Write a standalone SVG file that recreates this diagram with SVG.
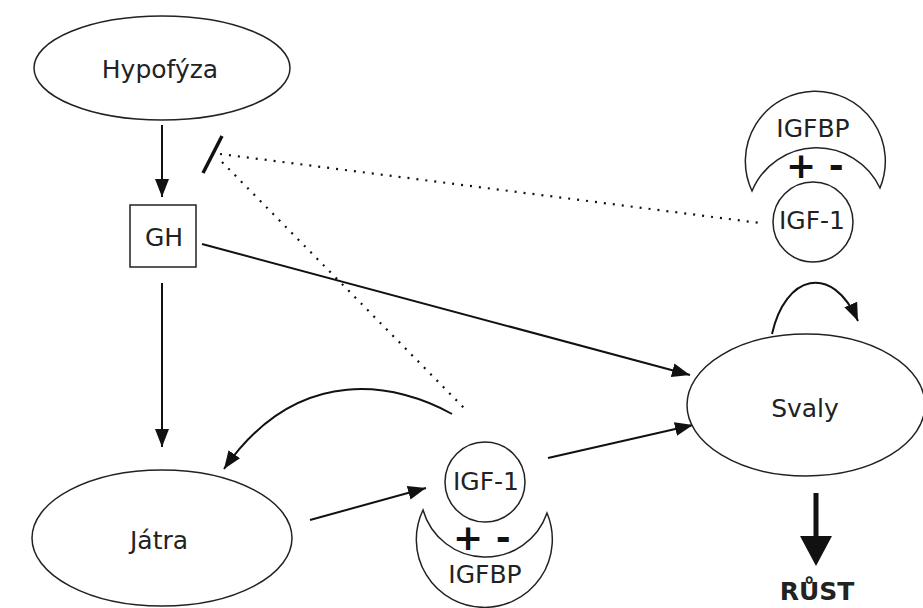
<svg xmlns="http://www.w3.org/2000/svg" width="923" height="608" viewBox="0 0 923 608">
<style>
.n{fill:#fff;stroke:#222;stroke-width:1.5}
.t{font-family:"DejaVu Sans",sans-serif;font-size:25px;fill:#222;text-anchor:middle}
.pm{font-family:"DejaVu Sans",sans-serif;font-size:36px;font-weight:bold;fill:#111}
.c{fill:none;stroke:#111;stroke-width:2}
.d{fill:none;stroke:#111;stroke-width:2.2;stroke-dasharray:2 7}
</style>
<defs>
<marker id="a" markerUnits="userSpaceOnUse" markerWidth="20" markerHeight="16" refX="18" refY="8" orient="auto"><path d="M0,1 L18,8 L0,15 Z" fill="#111"/></marker>
<marker id="b" markerUnits="userSpaceOnUse" markerWidth="34" markerHeight="34" refX="30" refY="17" orient="auto"><path d="M0,1 L30,17 L0,33 Z" fill="#111"/></marker>
</defs>
<g id="connectors">
<line class="c" x1="162" y1="125" x2="162" y2="197" marker-end="url(#a)"/>
<line class="c" x1="162" y1="283" x2="162" y2="447" marker-end="url(#a)"/>
<line class="c" x1="202" y1="244" x2="690" y2="375" marker-end="url(#a)"/>
<line x1="203" y1="173" x2="222" y2="136" stroke="#111" stroke-width="3.5"/>
<line class="d" x1="220" y1="154" x2="760" y2="223"/>
<line class="d" x1="222" y1="162" x2="464" y2="408"/>
<path class="c" d="M452,414 C400,385 300,360 224,469" marker-end="url(#a)"/>
<line class="c" x1="310" y1="520" x2="426" y2="488" marker-end="url(#a)"/>
<line class="c" x1="548" y1="458" x2="693" y2="425" marker-end="url(#a)"/>
<path class="c" d="M772,334 C785,275 832,262 858,321" marker-end="url(#a)"/>
<line x1="816" y1="493" x2="816" y2="545" stroke="#111" stroke-width="5"/>
<line x1="816" y1="530" x2="816" y2="566" stroke="none" marker-end="url(#b)"/>
</g>
<g id="hypofyza"><ellipse class="n" cx="162" cy="68" rx="128" ry="52"/><text class="t" x="160" y="78">Hypofýza</text></g>
<g id="gh"><rect class="n" x="130" y="205" width="66" height="62"/><text class="t" x="164" y="246">GH</text></g>
<g id="jatra"><ellipse class="n" cx="162" cy="538" rx="130" ry="68"/><text class="t" x="159" y="549">Játra</text></g>
<g id="svaly"><ellipse class="n" cx="806" cy="405" rx="119" ry="71"/><text class="t" x="805" y="417">Svaly</text></g>
<g id="igf1-bottom"><circle class="n" cx="485" cy="482" r="40"/><text class="t" x="486" y="490">IGF-1</text></g>
<g id="igfbp-bottom"><path class="n" d="M423,510 A68,68 0 1 0 547,513 A65,65 0 0 1 423,510 Z"/><text class="pm" x="453" y="550">+ -</text><text class="t" x="485" y="583">IGFBP</text></g>
<g id="igf1-top"><circle class="n" cx="813" cy="222" r="40"/><text class="t" x="812" y="229">IGF-1</text></g>
<g id="igfbp-top"><path class="n" d="M752,191 A70,70 0 1 1 880,188 A70,70 0 0 0 752,191 Z"/><text class="t" x="813" y="137">IGFBP</text><text class="pm" x="786" y="178">+ -</text></g>
<g id="rust"><text class="t" x="817" y="600" style="font-weight:bold">RŮST</text></g>
</svg>
